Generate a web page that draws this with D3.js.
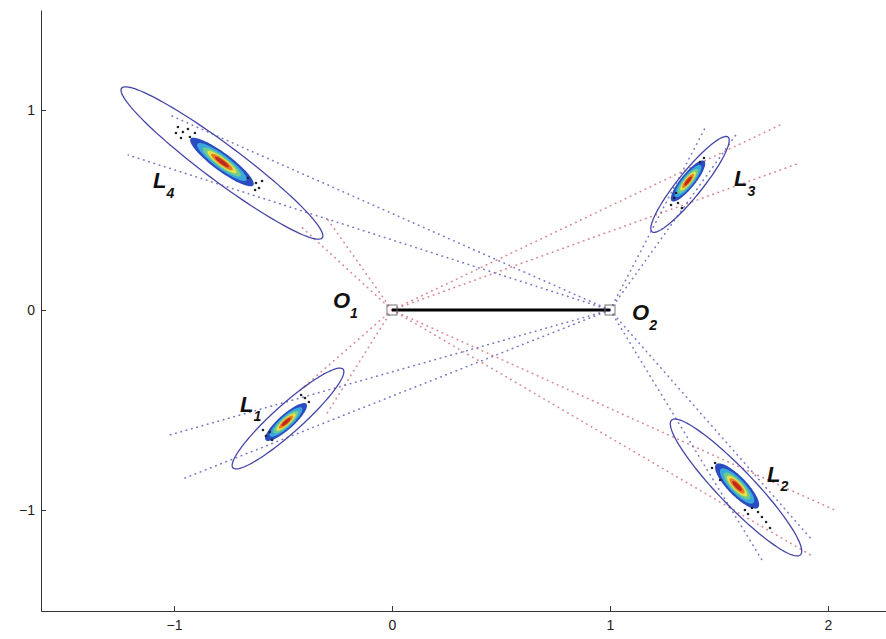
<!DOCTYPE html>
<html>
<head>
<meta charset="utf-8">
<script src="https://cdn.jsdelivr.net/npm/d3@7"></script>
<style>
  html, body { margin: 0; padding: 0; background: #fff; }
  svg { display: block; }
  .tick text { font-family: "Liberation Sans", Arial, sans-serif; font-size: 14px; fill: #222; }
  .lbl { font-family: "Liberation Sans", Arial, sans-serif; font-weight: bold; font-style: italic; fill: #111; }
</style>
</head>
<body>
<svg id="chart" width="886" height="639"></svg>
<script>
// Observer positions
const observers = [
  { name: "O", sub: "1", x: 0, y: 0 },
  { name: "O", sub: "2", x: 1, y: 0 }
];

// Landmarks: uncertainty ellipse (center, semi-axes, rotation in degrees)
const landmarks = [
  { name: "L", sub: "1", cx: -0.477, cy: -0.5425, a: 0.353, b: 0.068, ang: 44.5 },
  { name: "L", sub: "2", cx: 1.578,  cy: -0.8875, a: 0.448, b: 0.085, ang: -48.9 },
  { name: "L", sub: "3", cx: 1.367,  cy: 0.628,   a: 0.294, b: 0.058, ang: 53.8 },
  { name: "L", sub: "4", cx: -0.78,  cy: 0.735,   a: 0.593, b: 0.088, ang: -39.2 }
];

// Sample density cores (center, semi-axes)
const cores = [
  { cx: -0.486, cy: -0.56,  a: 0.13,  b: 0.036, ang: 44.5 },
  { cx: 1.583,  cy: -0.88,  a: 0.145, b: 0.045, ang: -48.9 },
  { cx: 1.358,  cy: 0.645,  a: 0.125, b: 0.034, ang: 53.8 },
  { cx: -0.78,  cy: 0.74,   a: 0.185, b: 0.043, ang: -39.2 }
];

// Bearing rays from each observer: [x1, y1, x2, y2]
const raysO1 = [
  [0, 0, -0.42, 0.42], [0, 0, -0.30, 0.46],
  [0, 0, -0.42, -0.40], [0, 0, -0.30, -0.52],
  [0, 0, 1.78, 0.925], [0, 0, 1.87, 0.735],
  [0, 0, 2.03, -1.0],  [0, 0, 1.92, -1.225]
];
const raysO2 = [
  [1, 0, -1.21, 0.775], [1, 0, -1.02, 0.975],
  [1, 0, -1.02, -0.625], [1, 0, -0.95, -0.84],
  [1, 0, 1.436, 0.91], [1, 0, 1.587, 0.89],
  [1, 0, 1.697, -1.25], [1, 0, 1.927, -1.15]
];

// Individual particle samples
const samples = [
  [-0.982, 0.915], [-0.959, 0.89], [-0.991, 0.885], [-0.936, 0.905], [-0.927, 0.865],
  [-0.968, 0.86], [-0.624, 0.635], [-0.61, 0.61], [-0.628, 0.60], [-0.596, 0.645],
  [-0.904, 0.885], [-0.661, 0.66],
  [1.294, 0.56], [1.312, 0.535], [1.28, 0.525], [1.303, 0.585], [1.413, 0.74],
  [1.431, 0.76], [1.33, 0.51],
  [-0.578, -0.63], [-0.56, -0.61], [-0.592, -0.60], [-0.55, -0.65], [-0.399, -0.44],
  [-0.381, -0.46], [-0.417, -0.425], [-0.615, -0.55],
  [1.651, -0.99], [1.679, -1.01], [1.697, -1.035], [1.716, -1.06], [1.734, -1.09],
  [1.633, -1.02], [1.482, -0.765], [1.468, -0.79], [1.505, -0.85], [1.619, -1.0]
];

const xTicks = [-1, 0, 1, 2];
const yTicks = [-1, 0, 1];

const svg = d3.select("#chart");
const x = d3.scaleLinear().domain([-1.61, 2.266]).range([41, 886]);
const y = d3.scaleLinear().domain([-1.505, 1.5]).range([611, 10]);

// Axes (ticks point inward)
svg.append("g")
  .attr("transform", `translate(0,${y(-1.505)})`)
  .call(d3.axisBottom(x).tickValues(xTicks).tickFormat(d3.format("d"))
        .tickSizeInner(-5).tickSizeOuter(0).tickPadding(9))
  .call(g => g.selectAll("path, line").attr("stroke", "#333"));

svg.append("g")
  .attr("transform", `translate(${x(-1.61)},0)`)
  .call(d3.axisLeft(y).tickValues(yTicks).tickFormat(d3.format("d"))
        .tickSizeInner(-5).tickSizeOuter(0).tickPadding(6))
  .call(g => g.selectAll("path, line").attr("stroke", "#333"));

// Ellipse outline sampled in data space
function ellipsePts(e, s) {
  const t = e.ang * Math.PI / 180, pts = [];
  for (let i = 0; i < 120; i++) {
    const u = 2 * Math.PI * i / 120;
    const ex = e.a * s * Math.cos(u), ey = e.b * s * Math.sin(u);
    pts.push([x(e.cx + ex * Math.cos(t) - ey * Math.sin(t)),
              y(e.cy + ex * Math.sin(t) + ey * Math.cos(t))]);
  }
  return pts;
}
const closed = d3.line().curve(d3.curveLinearClosed);

// Bearing rays
function drawRays(rays, color) {
  svg.append("g").selectAll("line").data(rays).join("line")
    .attr("x1", d => x(d[0])).attr("y1", d => y(d[1]))
    .attr("x2", d => x(d[2])).attr("y2", d => y(d[3]))
    .attr("stroke", color).attr("stroke-width", 1.6)
    .attr("stroke-linecap", "round").attr("stroke-dasharray", "0.5,5")
    .attr("opacity", 0.8);
}
drawRays(raysO1, "#d06a78");
drawRays(raysO2, "#5a5ab8");

// Uncertainty ellipses
svg.append("g").selectAll("path").data(landmarks).join("path")
  .attr("d", d => closed(ellipsePts(d, 1)))
  .attr("fill", "none").attr("stroke", "#4646a6").attr("stroke-width", 1.3);

// Density cores, jet-style nested contours
const layers = [
  { s: 1.0,  c: "#2a4cc0" },
  { s: 0.78, c: "#3aa8de" },
  { s: 0.6,  c: "#6fcc8a" },
  { s: 0.46, c: "#e6e248" },
  { s: 0.34, c: "#e77a2a" },
  { s: 0.22, c: "#c02a1c" }
];
const coreG = svg.append("g");
cores.forEach(c => {
  coreG.selectAll(null).data(layers).join("path")
    .attr("d", l => closed(ellipsePts(c, l.s)))
    .attr("fill", l => l.c);
});

// Particle samples
svg.append("g").selectAll("circle").data(samples).join("circle")
  .attr("cx", d => x(d[0])).attr("cy", d => y(d[1]))
  .attr("r", 1.3).attr("fill", "#222");

// Baseline between the two observers
svg.append("line")
  .attr("x1", x(observers[0].x)).attr("y1", y(observers[0].y))
  .attr("x2", x(observers[1].x)).attr("y2", y(observers[1].y))
  .attr("stroke", "#000").attr("stroke-width", 3);

// Observer markers
svg.append("g").selectAll("rect").data(observers).join("rect")
  .attr("x", d => x(d.x) - 5).attr("y", d => y(d.y) - 5)
  .attr("width", 10).attr("height", 10)
  .attr("fill", "none").attr("stroke", "#777").attr("stroke-width", 1);

// Labels with subscripts
function label(px, py, name, sub, size) {
  const t = svg.append("text").attr("class", "lbl")
    .attr("x", px).attr("y", py).attr("font-size", size);
  t.append("tspan").text(name);
  t.append("tspan").attr("dy", size * 0.45).attr("font-size", size * 0.64).text(sub);
}
const lmOffsets = [[-48, -7], [31, -6], [44, 2], [-69, 25]];
landmarks.forEach((l, i) => {
  label(x(l.cx) + lmOffsets[i][0], y(l.cy) + lmOffsets[i][1], l.name, l.sub, 22);
});
const obOffsets = [[-59, -2], [22, 10]];
observers.forEach((o, i) => {
  label(x(o.x) + obOffsets[i][0], y(o.y) + obOffsets[i][1], o.name, o.sub, 22);
});
</script>
</body>
</html>
